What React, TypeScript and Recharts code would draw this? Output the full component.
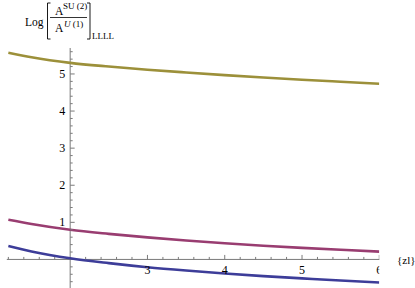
import React from "react";
import { ComposedChart, Line, XAxis, YAxis, ReferenceLine, Scatter, Customized } from "recharts";

const xs = [1.2, 1.5, 2, 2.5, 3, 3.5, 4, 4.5, 5, 5.5, 6];
const oliveSeries = [5.57, 5.45, 5.3, 5.2, 5.115, 5.04, 4.97, 4.905, 4.845, 4.79, 4.735];
const magentaSeries = [1.07, 0.955, 0.8, 0.69, 0.595, 0.51, 0.435, 0.37, 0.312, 0.26, 0.21];
const blueSeries = [0.36, 0.215, 0.03, -0.1, -0.21, -0.3, -0.38, -0.45, -0.51, -0.568, -0.62];

const xMajorTicks = [3, 4, 5, 6];
const xMinorTicks = [1.2, 1.4, 1.6, 1.8, 2.2, 2.4, 2.6, 2.8, 3.2, 3.4, 3.6, 3.8, 4.2, 4.4, 4.6, 4.8, 5.2, 5.4, 5.6, 5.8];
const yMajorTicks = [1, 2, 3, 4, 5];
const yMinorTicks = [-0.6, -0.4, -0.2, 0.2, 0.4, 0.6, 0.8, 1.2, 1.4, 1.6, 1.8, 2.2, 2.4, 2.6, 2.8, 3.2, 3.4, 3.6, 3.8, 4.2, 4.4, 4.6, 4.8, 5.2, 5.4, 5.6];
const axisCross = { x: 2, y: 0 };

const table = xs.map((x, i) => ({ x, olive: oliveSeries[i], magenta: magentaSeries[i], blue: blueSeries[i] }));

const AXIS = "#7a7a7a";
const FONT = "'Liberation Serif', 'DejaVu Serif', serif";

const xTickMark = (len: number) => (p: any) => (
  <line x1={p.cx} y1={p.cy} x2={p.cx} y2={p.cy - len} stroke={AXIS} strokeWidth={1} />
);
const yTickMark = (len: number) => (p: any) => (
  <line x1={p.cx} y1={p.cy} x2={p.cx + len} y2={p.cy} stroke={AXIS} strokeWidth={1} />
);
const xLabel = (p: any) => (
  <text x={p.cx} y={p.cy + 15} textAnchor="middle" fontFamily={FONT} fontSize={12} fill="#000">
    {p.payload.label}
  </text>
);
const yLabel = (p: any) => (
  <text x={p.cx - 5} y={p.cy + 4} textAnchor="end" fontFamily={FONT} fontSize={12} fill="#000">
    {p.payload.label}
  </text>
);

const Title = () => (
  <g fontFamily={FONT} fill="#000" textAnchor="start">
    <text x={25} y={25.5} fontSize={11.5}>Log</text>
    <path d="M50.5 3 H47.5 V39 H50.5" stroke="#000" strokeWidth={0.9} fill="none" />
    <text x={55} y={14.5} fontSize={11.5}>A</text>
    <text x={63} y={8.5} fontSize={9}>SU (2)</text>
    <line x1={50} y1={17.5} x2={87} y2={17.5} stroke="#000" strokeWidth={0.8} />
    <text x={55} y={32} fontSize={11.5}>A</text>
    <text x={64} y={26.5} fontSize={9}><tspan fontStyle="italic">U</tspan> (1)</text>
    <path d="M87 3 H90 V39 H87" stroke="#000" strokeWidth={0.9} fill="none" />
    <text x={92} y={38.5} fontSize={9}>LLLL</text>
    <text x={397} y={264} fontSize={11}>{"{zl}"}</text>
  </g>
);

export default function App() {
  return (
    <div style={{ position: "absolute", left: 0, top: 0, width: 415, height: 288, background: "#fff" }}>
      <ComposedChart width={415} height={288} data={table} margin={{ top: 48, right: 35.7, bottom: 0, left: 6.8 }}>
        <XAxis type="number" dataKey="x" domain={[1.18, 6]} hide allowDataOverflow />
        <YAxis type="number" domain={[-0.77, 5.7]} hide allowDataOverflow />
        <ReferenceLine x={axisCross.x} stroke={AXIS} strokeWidth={1} />
        <ReferenceLine y={axisCross.y} stroke={AXIS} strokeWidth={1} />
        <Scatter data={xMajorTicks.map((v) => ({ x: v, y: axisCross.y }))} dataKey="y" shape={xTickMark(4.5)} isAnimationActive={false} />
        <Scatter data={xMinorTicks.map((v) => ({ x: v, y: axisCross.y }))} dataKey="y" shape={xTickMark(2.5)} isAnimationActive={false} />
        <Scatter data={yMajorTicks.map((v) => ({ x: axisCross.x, y: v }))} dataKey="y" shape={yTickMark(4.5)} isAnimationActive={false} />
        <Scatter data={yMinorTicks.map((v) => ({ x: axisCross.x, y: v }))} dataKey="y" shape={yTickMark(2.5)} isAnimationActive={false} />
        <Scatter data={xMajorTicks.map((v) => ({ x: v, y: axisCross.y, label: String(v) }))} dataKey="y" shape={xLabel} isAnimationActive={false} />
        <Scatter data={yMajorTicks.map((v) => ({ x: axisCross.x, y: v, label: String(v) }))} dataKey="y" shape={yLabel} isAnimationActive={false} />
        <Line type="monotone" dataKey="blue" stroke="#3d3d99" strokeWidth={2.6} dot={false} isAnimationActive={false} />
        <Line type="monotone" dataKey="magenta" stroke="#993d71" strokeWidth={2.6} dot={false} isAnimationActive={false} />
        <Line type="monotone" dataKey="olive" stroke="#9c903a" strokeWidth={2.6} dot={false} isAnimationActive={false} />
        <Customized component={Title} />
      </ComposedChart>
    </div>
  );
}
